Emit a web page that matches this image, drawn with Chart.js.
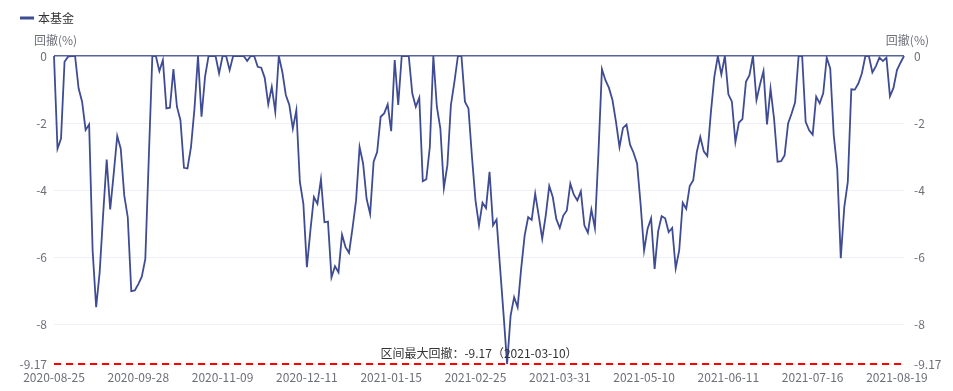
<!DOCTYPE html>
<html lang="zh-CN">
<head>
<meta charset="UTF-8">
<title>回撤</title>
<script src="https://cdn.jsdelivr.net/npm/chart.js@4.4.1/dist/chart.umd.min.js"></script>
<style>
    html, body { margin: 0; padding: 0; background: #fff; }
    #wrap { width: 953px; height: 391px; position: relative; }
</style>
</head>
<body>
<div id="wrap"><canvas id="graficoRecuo"></canvas></div>
<script>
const diasUteis = [
    ['2020-08', [25, 26, 27, 28, 31]],
    ['2020-09', [1, 2, 3, 4, 7, 8, 9, 10, 11, 14, 15, 16, 17, 18, 21, 22, 23, 24, 25, 28, 29, 30]],
    ['2020-10', [9, 12, 13, 14, 15, 16, 19, 20, 21, 22, 23, 26, 27, 28, 29, 30]],
    ['2020-11', [2, 3, 4, 5, 6, 9, 10, 11, 12, 13, 16, 17, 18, 19, 20, 23, 24, 25, 26, 27, 30]],
    ['2020-12', [1, 2, 3, 4, 7, 8, 9, 10, 11, 14, 15, 16, 17, 18, 21, 22, 23, 24, 25, 28, 29, 30, 31]],
    ['2021-01', [4, 5, 6, 7, 8, 11, 12, 13, 14, 15, 18, 19, 20, 21, 22, 25, 26, 27, 28, 29]],
    ['2021-02', [1, 2, 3, 4, 5, 8, 9, 10, 18, 19, 22, 23, 24, 25, 26]],
    ['2021-03', [1, 2, 3, 4, 5, 8, 9, 10, 11, 12, 15, 16, 17, 18, 19, 22, 23, 24, 25, 26, 29, 30, 31]],
    ['2021-04', [1, 2, 6, 7, 8, 9, 12, 13, 14, 15, 16, 19, 20, 21, 22, 23, 26, 27, 28, 29, 30]],
    ['2021-05', [6, 7, 10, 11, 12, 13, 14, 17, 18, 19, 20, 21, 24, 25, 26, 27, 28, 31]],
    ['2021-06', [1, 2, 3, 4, 7, 8, 9, 10, 11, 15, 16, 17, 18, 21, 22, 23, 24, 25, 28, 29, 30]],
    ['2021-07', [1, 2, 5, 6, 7, 8, 9, 12, 13, 14, 15, 16, 19, 20, 21, 22, 23, 26, 27, 28, 29, 30]],
    ['2021-08', [2, 3, 4, 5, 6, 9, 10, 11, 12, 13, 16, 17, 18, 19, 20, 23]]
];

const recuo = [
    0, -2.76, -2.46, -0.17, -0.02, 0, 0, -0.96, -1.36, -2.2,
    -2.04, -5.8, -7.48, -6.44, -4.7, -3.08, -4.57, -3.5, -2.38, -2.76,
    -4.15, -4.8, -7.0, -6.98, -6.79, -6.57, -6.04, -3.0, 0, 0,
    -0.45, -0.12, -1.56, -1.54, -0.39, -1.51, -1.91, -3.33, -3.35, -2.71,
    -1.56, 0, -1.81, -0.62, 0, 0, 0, -0.52, 0, 0,
    -0.42, 0, 0, 0, 0, -0.15, 0, 0, -0.32, -0.35,
    -0.65, -1.44, -0.92, -1.66, 0, -0.47, -1.16, -1.46, -2.16, -1.61,
    -3.75, -4.4, -6.29, -5.19, -4.2, -4.4, -3.67, -4.95, -4.93, -6.59,
    -6.26, -6.44, -5.32, -5.69, -5.86, -5.12, -4.3, -2.71, -3.2, -4.25,
    -4.7, -3.15, -2.86, -1.81, -1.71, -1.44, -2.24, -0.12, -1.46, 0,
    0, 0, -1.11, -1.51, -1.24, -3.73, -3.67, -2.71, 0, -1.51,
    -2.16, -3.93, -3.25, -1.46, -0.77, 0, 0, -1.36, -1.56, -3.0,
    -4.3, -5.04, -4.37, -4.53, -3.45, -5.04, -4.87, -6.3, -7.7, -9.17,
    -7.73, -7.18, -7.48, -6.34, -5.34, -4.8, -4.88, -4.1, -4.75, -5.44,
    -4.75, -3.87, -4.2, -4.85, -5.12, -4.75, -4.6, -3.8, -4.13, -4.3,
    -4.03, -5.04, -5.26, -4.57, -5.12, -2.9, -0.39, -0.72, -0.95, -1.31,
    -1.96, -2.71, -2.14, -2.04, -2.64, -2.88, -3.2, -4.4, -5.79, -5.14,
    -4.83, -6.34, -5.22, -4.77, -4.83, -5.24, -5.12, -6.32, -5.79, -4.37,
    -4.55, -3.87, -3.7, -2.86, -2.41, -2.84, -2.98, -1.7, -0.62, 0,
    -0.55, 0, -1.14, -1.36, -2.56, -1.98, -1.88, -0.77, -0.57, 0,
    -1.31, -0.85, -0.45, -2.04, -0.97, -1.86, -3.15, -3.13, -2.96, -2.01,
    -1.71, -1.38, 0, 0, -1.96, -2.21, -2.34, -1.21, -1.41, -1.11,
    -0.05, -0.37, -2.36, -3.37, -6.02, -4.5, -3.75, -0.99, -1.0, -0.82,
    -0.52, 0, 0, -0.49, -0.3, -0.05, -0.15, -0.05, -1.2, -0.95,
    -0.42, -0.2, 0
];

const ticksY = [0, -2, -4, -6, -8];
const nomeSerie = '本基金';
const tituloEixo = '回撤(%)';

const datas = diasUteis.flatMap(([mes, dias]) => dias.map(d => `${mes}-${String(d).padStart(2, '0')}`));
const piorValor = Math.min(...recuo);
const piorData = datas[recuo.indexOf(piorValor)];

const FONTE = '"Noto Sans CJK SC", "Noto Sans", sans-serif';
const COR_LINHA = '#3f4c94';
const COR_TEXTO = '#6e7079';

const extras = {
    id: 'extras',
    afterDraw(chart) {
        const { ctx, chartArea, scales } = chart;
        ctx.save();

        // legenda
        ctx.strokeStyle = COR_LINHA;
        ctx.lineWidth = 3;
        ctx.beginPath();
        ctx.moveTo(20, 18);
        ctx.lineTo(34, 18);
        ctx.stroke();
        ctx.font = `12px ${FONTE}`;
        ctx.fillStyle = '#333';
        ctx.textBaseline = 'middle';
        ctx.textAlign = 'left';
        ctx.fillText(nomeSerie, 38, 18);

        // nomes dos eixos
        ctx.fillStyle = COR_TEXTO;
        ctx.textAlign = 'left';
        ctx.fillText(tituloEixo, 34, 40);
        ctx.textAlign = 'right';
        ctx.fillText(tituloEixo, 929, 40);

        // linha do recuo maximo
        const yMin = scales.y.getPixelForValue(piorValor);
        ctx.strokeStyle = '#ff0000';
        ctx.lineWidth = 2;
        ctx.setLineDash([7, 5]);
        ctx.beginPath();
        ctx.moveTo(chartArea.left, yMin);
        ctx.lineTo(chartArea.right, yMin);
        ctx.stroke();
        ctx.setLineDash([]);

        ctx.fillStyle = '#333';
        ctx.textAlign = 'center';
        ctx.textBaseline = 'bottom';
        ctx.fillText(`区间最大回撤：${piorValor.toFixed(2)}（${piorData}）`,
            (chartArea.left + chartArea.right) / 2, yMin - 5);
        ctx.restore();
    }
};

document.addEventListener('DOMContentLoaded', () => {
    const ctx = document.getElementById('graficoRecuo').getContext('2d');
    const marcas = [...ticksY, piorValor];

    const eixoY = (posicao, largura, padding) => ({
        type: 'linear',
        position: posicao,
        min: piorValor,
        max: 0,
        afterBuildTicks: axis => { axis.ticks = marcas.map(v => ({ value: v })); },
        afterFit: axis => { axis.width = largura; },
        border: { display: false },
        grid: {
            display: posicao === 'left',
            drawTicks: false,
            color: c => c.tick && c.tick.value === 0 ? '#55639b' : '#eef0f5',
            lineWidth: c => c.tick && c.tick.value === 0 ? 1.5 : 1
        },
        ticks: {
            padding: padding,
            color: COR_TEXTO,
            font: { family: FONTE, size: 12 },
            callback: v => String(Math.round(v * 100) / 100)
        }
    });

    new Chart(ctx, {
        type: 'line',
        data: {
            labels: datas,
            datasets: [{
                label: nomeSerie,
                data: recuo,
                borderColor: COR_LINHA,
                borderWidth: 1.8,
                pointRadius: 0,
                tension: 0,
                fill: false
            }]
        },
        options: {
            responsive: true,
            maintainAspectRatio: false,
            animation: false,
            layout: { padding: { top: 56, left: 0, right: 0, bottom: 0 } },
            plugins: {
                legend: { display: false },
                tooltip: { enabled: false }
            },
            scales: {
                x: {
                    type: 'category',
                    offset: false,
                    afterFit: axis => { axis.height = 27; },
                    border: { display: false },
                    grid: { display: false, drawTicks: false },
                    ticks: {
                        autoSkip: false,
                        maxRotation: 0,
                        padding: 6,
                        color: COR_TEXTO,
                        font: { family: FONTE, size: 12 },
                        callback: (v, i) => i % 24 === 0 ? datas[i] : null
                    }
                },
                y: eixoY('left', 54, 7),
                y2: eixoY('right', 49, 10)
            }
        },
        plugins: [extras]
    });
});
</script>
</body>
</html>
